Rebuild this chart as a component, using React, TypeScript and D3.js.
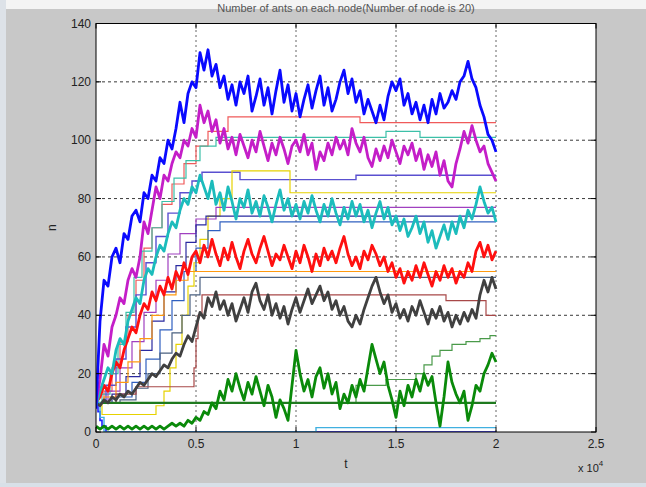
import React from "react";
import * as d3 from "d3";

const W = 646;
const H = 487;
const margin = { left: 96, right: 50, top: 23.5, bottom: 55 };

// sample times (x 10^4) for the noisy nodes: 0 .. 2 every 0.02
const tNoisy = d3.range(0, 101).map((i) => i * 0.02);

const blueNode = [8, 38, 52, 50, 60, 63, 58, 68, 66, 74, 76, 72, 82, 80, 88, 86, 94, 92, 100, 97,
  104, 113, 106, 116, 120, 118, 130, 124, 131, 122, 126, 118, 122, 114, 119, 112, 120, 116, 122, 110,
  115, 121, 112, 118, 109, 117, 124, 113, 119, 110, 116, 108, 114, 119, 111, 117, 122, 112, 118, 110,
  114, 120, 124, 116, 121, 113, 117, 109, 114, 110, 106, 112, 107, 115, 120, 117, 121, 112, 116, 109,
  113, 107, 112, 106, 114, 109, 116, 111, 113, 117, 114, 120, 122, 127, 121, 118, 112, 108, 102, 100, 96];

const magentaNode = [10, 18, 30, 26, 36, 40, 46, 44, 52, 56, 53, 60, 72, 68, 76, 84, 80, 88, 86, 92,
  96, 94, 100, 98, 104, 101, 112, 106, 110, 103, 107, 99, 104, 97, 101, 95, 102, 98, 94, 100,
  96, 103, 98, 93, 99, 95, 101, 97, 92, 98, 100, 96, 102, 95, 99, 90, 96, 93, 99, 95,
  101, 97, 100, 95, 104, 99, 96, 101, 94, 91, 97, 93, 98, 94, 100, 96, 92, 98, 95, 99,
  93, 97, 90, 95, 91, 96, 88, 93, 86, 84, 92, 97, 103, 99, 105, 100, 96, 98, 92, 89, 86];

const cyanNode = [9, 14, 18, 22, 20, 28, 32, 30, 38, 42, 46, 44, 52, 56, 54, 60, 64, 62, 68, 72,
  70, 76, 80, 78, 84, 82, 88, 84, 80, 86, 78, 82, 76, 84, 79, 73, 80, 77, 83, 75,
  79, 74, 81, 77, 72, 78, 83, 76, 80, 74, 78, 73, 79, 75, 81, 76, 72, 78, 74, 80,
  75, 71, 77, 73, 79, 74, 78, 72, 76, 70, 75, 79, 73, 77, 71, 74, 69, 73, 67, 70,
  74, 68, 72, 65, 69, 63, 67, 71, 66, 72, 68, 74, 70, 76, 73, 78, 84, 79, 75, 77, 72];

const redNode = [10, 12, 16, 14, 20, 24, 22, 28, 32, 36, 34, 40, 44, 42, 48, 45, 50, 47, 53, 49,
  55, 52, 58, 54, 60, 62, 58, 64, 60, 66, 61, 57, 63, 59, 65, 60, 56, 62, 66, 61,
  58, 63, 67, 62, 57, 61, 59, 64, 60, 56, 62, 58, 64, 60, 55, 61, 57, 63, 59, 62,
  58, 63, 67, 61, 57, 60, 56, 62, 59, 64, 61, 57, 60, 55, 58, 53, 56, 51, 55, 52,
  57, 53, 58, 54, 50, 55, 52, 57, 53, 56, 51, 55, 53, 58, 55, 62, 65, 60, 64, 59, 62];

const blackNode = [10, 9, 11, 10, 12, 11, 13, 12, 14, 13, 15, 17, 16, 18, 20, 19, 21, 23, 22, 25,
  27, 26, 30, 33, 31, 36, 41, 39, 46, 43, 48, 42, 45, 40, 44, 38, 42, 46, 41, 48,
  51, 45, 42, 47, 40, 44, 39, 43, 37, 42, 46, 41, 45, 49, 44, 47, 50, 45, 48, 42,
  45, 40, 43, 38, 36, 40, 37, 42, 46, 50, 53, 48, 44, 47, 41, 44, 39, 42, 38, 43,
  40, 45, 41, 37, 42, 39, 43, 38, 41, 36, 40, 37, 41, 38, 42, 39, 47, 52, 48, 53, 49];

const greenNode = [2, 1, 2, 1, 2, 1, 2, 1, 2, 1, 2, 1, 2, 1, 2, 1, 2, 1, 2, 3,
  2, 3, 2, 4, 3, 5, 4, 7, 6, 10, 8, 14, 11, 18, 14, 20, 15, 11, 17, 13,
  19, 14, 9, 16, 12, 5, 11, 8, 4, 16, 28, 20, 14, 18, 12, 19, 22, 15, 20, 13,
  17, 8, 13, 10, 16, 12, 18, 14, 22, 30, 25, 20, 24, 16, 11, 5, 14, 9, 16, 12,
  18, 14, 20, 16, 19, 10, 2, 12, 24, 17, 13, 10, 14, 4, 9, 16, 14, 20, 23, 27, 24];

// frozen nodes: [t (x 10^4), n] break points, held until the next one
const salmonNode = [[0, 10], [0.04, 14], [0.08, 22], [0.12, 31], [0.16, 40], [0.2, 52], [0.24, 63], [0.28, 70], [0.33, 78], [0.38, 85], [0.44, 92], [0.5, 98], [0.56, 103], [0.66, 108], [1.32, 106], [2, 106]];
const tealNode = [[0, 10], [0.03, 13], [0.07, 20], [0.11, 30], [0.15, 41], [0.19, 53], [0.23, 62], [0.28, 70], [0.33, 79], [0.39, 87], [0.45, 93], [0.52, 98], [0.6, 101], [1.45, 103], [1.62, 101], [2, 101]];
const slateBlueNode = [[0, 10], [0.05, 16], [0.1, 25], [0.15, 36], [0.2, 47], [0.25, 58], [0.3, 67], [0.36, 75], [0.42, 82], [0.48, 86], [0.53, 89], [0.72, 86.5], [1.3, 88], [2, 88]];
const yellowNode = [[0, 10], [0.03, 6], [0.3, 9], [0.34, 14], [0.37, 22], [0.4, 30], [0.43, 40], [0.46, 50], [0.49, 58], [0.52, 66], [0.56, 74], [0.62, 80], [0.68, 89.5], [0.97, 82], [2, 82]];
const purpleNode = [[0, 10], [0.06, 14], [0.12, 22], [0.18, 31], [0.24, 41], [0.3, 52], [0.36, 61], [0.42, 68], [0.5, 73], [0.6, 77], [2, 77]];
const navyNode = [[0, 10], [0.08, 13], [0.15, 19], [0.22, 28], [0.28, 38], [0.34, 48], [0.4, 57], [0.45, 65], [0.5, 71], [0.55, 74], [2, 74]];
const steelNode = [[0, 10], [0.1, 12], [0.18, 17], [0.25, 25], [0.32, 35], [0.38, 45], [0.44, 55], [0.5, 63], [0.56, 69], [0.62, 72], [2, 72]];
const orangeNode = [[0, 10], [0.04, 12], [0.1, 17], [0.16, 24], [0.22, 32], [0.28, 40], [0.34, 47], [0.4, 52], [0.46, 55], [2, 55]];
const grayBlueNode = [[0, 10], [0.12, 11], [0.2, 15], [0.26, 20], [0.32, 27], [0.38, 34], [0.43, 40], [0.47, 47], [0.52, 53], [2, 53]];
const brownNode = [[0, 10], [0.1, 13], [0.2, 15.5], [0.49, 22], [0.5, 32], [0.51, 40], [0.53, 47], [1.75, 45], [1.95, 40], [2, 40]];
const lightGreenNode = [[0, 10], [1.3, 16], [1.45, 18], [1.6, 20], [1.64, 23], [1.68, 26], [1.72, 28], [1.78, 30], [1.85, 31], [1.92, 32], [1.97, 33], [2, 33]];
const darkGreenNode = [[0, 10], [2, 10]];
const emptyNode = [[0, 10], [0.01, 7], [0.02, 4], [0.03, 2], [0.05, 0], [2, 0]];
const skyNode = [[0, 10], [0.02, 5], [0.04, 0], [1.1, 1.5], [2, 1.5]];

const xTicks = [0, 0.5, 1, 1.5, 2, 2.5];
const yTicks = [0, 20, 40, 60, 80, 100, 120, 140];

const stepSeries = [
  { pts: salmonNode, color: "#f05a5a", w: 1.2 },
  { pts: tealNode, color: "#3cc0a8", w: 1.2 },
  { pts: slateBlueNode, color: "#5a50d0", w: 1.4 },
  { pts: yellowNode, color: "#e6d200", w: 1.2 },
  { pts: purpleNode, color: "#a040c0", w: 1.2 },
  { pts: navyNode, color: "#2a2aa0", w: 1.2 },
  { pts: steelNode, color: "#3060c0", w: 1.2 },
  { pts: orangeNode, color: "#ff9a10", w: 1.2 },
  { pts: grayBlueNode, color: "#4a6080", w: 1.2 },
  { pts: brownNode, color: "#a84848", w: 1.2 },
  { pts: lightGreenNode, color: "#4a9a4a", w: 1.2 },
  { pts: darkGreenNode, color: "#1f7a1f", w: 2.2 },
  { pts: emptyNode, color: "#2020ff", w: 1.6 },
  { pts: skyNode, color: "#40b0e0", w: 1.4 },
];

const noisySeries = [
  { vals: greenNode, color: "#0a8a0a" },
  { vals: blackNode, color: "#404040" },
  { vals: redNode, color: "#ff1010" },
  { vals: cyanNode, color: "#1cbcbc" },
  { vals: magentaNode, color: "#c41ec8" },
  { vals: blueNode, color: "#0a0aff" },
];

export default function App() {
  const x = d3.scaleLinear().domain([0, 2.5]).range([margin.left, W - margin.right]);
  const y = d3.scaleLinear().domain([0, 140]).range([H - margin.bottom, margin.top]);

  const stepLine = d3.line<number[]>().x((d) => x(d[0])).y((d) => y(d[1])).curve(d3.curveStepAfter);
  const noisyLine = d3.line<number>().x((d, i) => x(tNoisy[i])).y((d) => y(d));

  const x0 = x(0), x1 = x(2.5), y0 = y(0), y1 = y(140);
  const font = "'Liberation Sans', Arial, sans-serif";

  return (
    <svg width={W} height={H} style={{ position: "absolute", left: 0, top: 0, display: "block" }}>
      <rect x={0} y={0} width={W} height={H} fill="#c8c8c8" />
      <rect x={0} y={0} width={W} height={9} fill="#f4f4f4" />
      <rect x={0} y={0} width={6} height={H} fill="#dde2e8" />
      <rect x={0} y={H - 4} width={W} height={4} fill="#d8e0e8" />
      <text x={(x0 + x1) / 2} y={12} textAnchor="middle" fontFamily={font} fontSize={11} fill="#555">
        Number of ants on each node(Number of node is 20)
      </text>
      <rect x={x0} y={y1} width={x1 - x0} height={y0 - y1} fill="#ffffff" />
      {/* grid */}
      {yTicks.slice(1, -1).map((v) => (
        <line key={"gy" + v} x1={x0} x2={x1} y1={y(v)} y2={y(v)} stroke="#222" strokeWidth={0.9} strokeDasharray="3,3" />
      ))}
      {xTicks.slice(1, -1).map((v) => (
        <line key={"gx" + v} x1={x(v)} x2={x(v)} y1={y0} y2={y1} stroke="#555" strokeWidth={0.9} strokeDasharray="2,3" />
      ))}
      <clipPath id="plotClip">
        <rect x={x0} y={y1} width={x1 - x0} height={y0 - y1} />
      </clipPath>
      <g clipPath="url(#plotClip)" fill="none">
        {stepSeries.map((s, i) => (
          <path key={"s" + i} d={stepLine(s.pts) || ""} stroke={s.color} strokeWidth={s.w} />
        ))}
        {noisySeries.map((s, i) => (
          <path key={"n" + i} d={noisyLine(s.vals) || ""} stroke={s.color} strokeWidth={2.8} strokeLinejoin="round" />
        ))}
      </g>
      {/* axes box */}
      <rect x={x0} y={y1} width={x1 - x0} height={y0 - y1} fill="none" stroke="#000" strokeWidth={1} />
      {xTicks.map((v) => (
        <g key={"tx" + v}>
          <line x1={x(v)} x2={x(v)} y1={y0} y2={y0 - 5} stroke="#000" />
          <line x1={x(v)} x2={x(v)} y1={y1} y2={y1 + 5} stroke="#000" />
          <text x={x(v)} y={y0 + 16} textAnchor="middle" fontFamily={font} fontSize={12} fill="#222">
            {v}
          </text>
        </g>
      ))}
      {yTicks.map((v) => (
        <g key={"ty" + v}>
          <line x1={x0} x2={x0 + 5} y1={y(v)} y2={y(v)} stroke="#000" />
          <line x1={x1} x2={x1 - 5} y1={y(v)} y2={y(v)} stroke="#000" />
          <text x={x0 - 5} y={y(v) + 4} textAnchor="end" fontFamily={font} fontSize={12} fill="#222">
            {v}
          </text>
        </g>
      ))}
      <text x={(x0 + x1) / 2} y={y0 + 36} textAnchor="middle" fontFamily={font} fontSize={12} fill="#222">t</text>
      <text transform={`translate(${x0 - 40},${(y0 + y1) / 2}) rotate(-90)`} textAnchor="middle" fontFamily={font} fontSize={12} fill="#222">n</text>
      <text x={x1 - 18} y={y0 + 40} fontFamily={font} fontSize={11} fill="#222">
        x 10<tspan dy={-6} fontSize={8}>4</tspan>
      </text>
    </svg>
  );
}
